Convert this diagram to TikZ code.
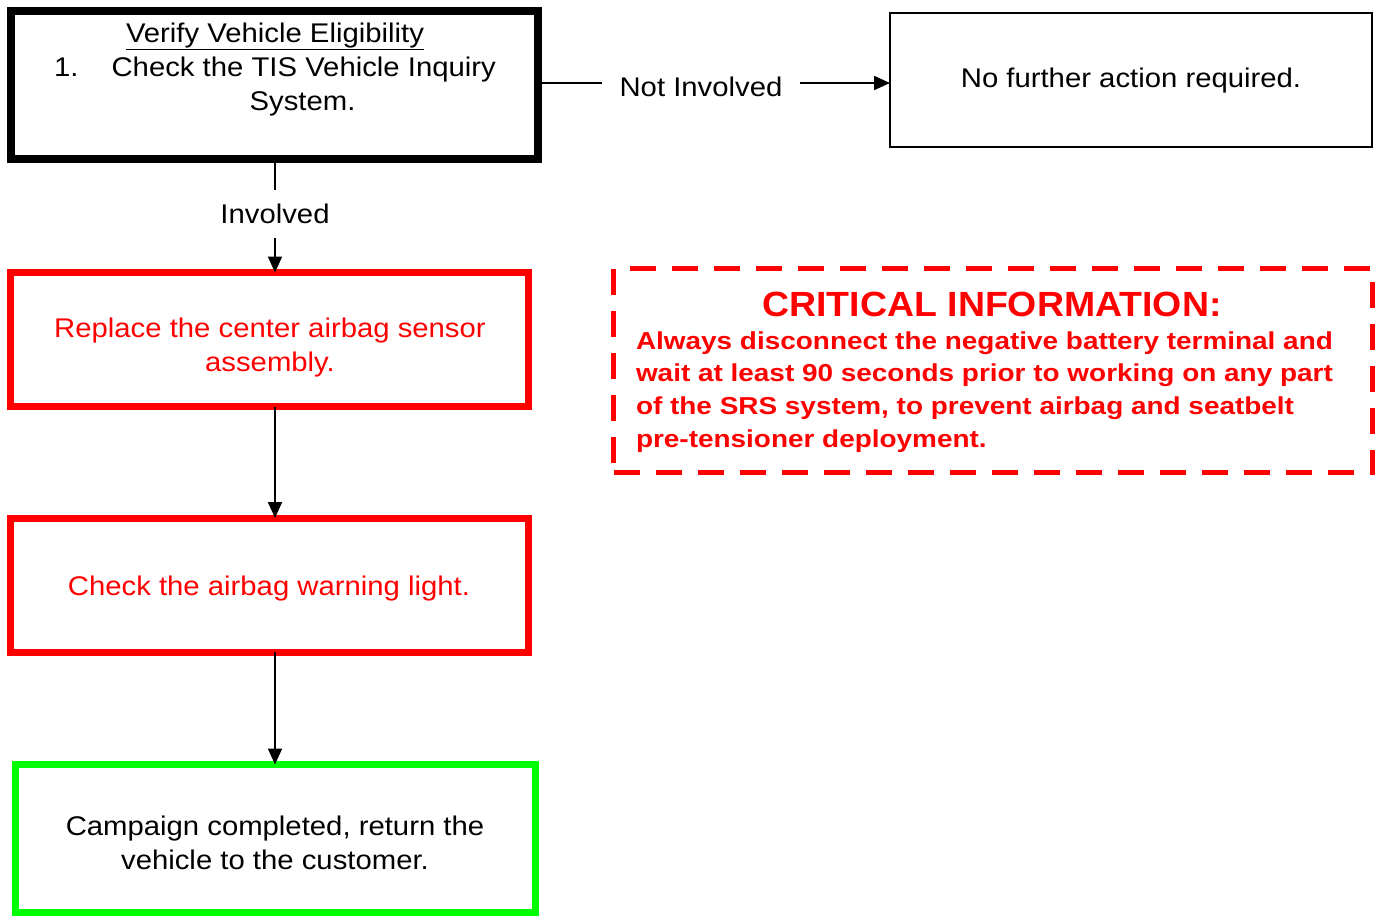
\documentclass[tikz,border=0pt]{standalone}
\usepackage{fontspec}
\setmainfont{Liberation Sans}[FakeStretch=1.085]
\newfontfamily\titlefont{Liberation Sans}[FakeStretch=1.07]
\newfontfamily\bodyfont{Liberation Sans}[FakeStretch=1.14]
\usetikzlibrary{arrows.meta}
\definecolor{pured}{RGB}{255,0,0}
\definecolor{pugreen}{RGB}{0,255,0}
\begin{document}
\begin{tikzpicture}[x=1pt,y=-1pt,
  every node/.style={font=\fontsize{27}{34}\selectfont, inner sep=0pt, outer sep=0pt},
  boxblack/.style={draw=black, line width=8pt, minimum width=527pt, minimum height=148pt},
  boxthin/.style={draw=black, line width=2pt, minimum width=482pt, minimum height=134pt},
  boxred/.style={draw=pured, line width=7pt, minimum width=518pt, minimum height=134pt},
  boxgreen/.style={draw=pugreen, line width=7pt, minimum width=520pt, minimum height=148pt},
  critbox/.style={draw=pured, line width=5pt, dash pattern=on 26pt off 16pt, minimum width=759pt, minimum height=204pt},
  conn/.style={line width=2pt, draw=black},
  arr/.style={conn, -{Triangle[length=16pt,width=14pt]}},
  redtext/.style={text=pured, align=center},
]
\useasboundingbox (0,0) rectangle (1375,916);
% boxes
\node[boxblack] (b1) at (274.5,85) {};
\node[align=center, anchor=north] (b1t) at (275,23)
  {\underline{Verify Vehicle Eligibility}\\
   1.\hspace{33pt}Check the TIS Vehicle Inquiry\\
   \hspace{55pt}System.};
\node[boxthin] (b2) at (1131,80) {};
\node (b2t) at (1131,81) {No further action required.};
\node[boxred] (b3) at (269.5,339.5) {};
\node[redtext] (b3t) at (270,348) {Replace the center airbag sensor\\assembly.};
\node[boxred] (b4) at (269.5,585) {};
\node[redtext] (b4t) at (269,589) {Check the airbag warning light.};
\node[boxgreen] (b5) at (275.5,838.5) {};
\node[align=center] (b5t) at (275,843) {Campaign completed, return the\\vehicle to the customer.};
% critical info
\node[critbox] (crit) at (993,370.5) {};
\node[text=pured, font=\titlefont\fontsize{35}{40}\selectfont\bfseries] (critt) at (992,304) {CRITICAL INFORMATION:};
\node[text=pured, anchor=north west, align=left, font=\bodyfont\fontsize{24.5}{32.7}\selectfont\bfseries] (critb) at (636,331.5)
  {Always disconnect the negative battery terminal and\\
   wait at least 90 seconds prior to working on any part\\
   of the SRS system, to prevent airbag and seatbelt\\
   pre-tensioner deployment.};
% labels
\node[inner ysep=14pt] (inv) at (275,214) {Involved};
\node[inner xsep=18pt] (ninv) at (701,87) {Not Involved};
% connectors
\draw[conn] (b1.south -| inv.north) -- (inv.north);
\draw[arr] (inv.south) -- (inv.south |- b3.north);
\draw[arr] (b3.south -| inv.south) -- (b4.north -| inv.south);
\draw[arr] (b4.south -| inv.south) -- (b5.north -| inv.south);
\draw[conn] ([yshift=4pt]b1.east |- ninv.west) -- ([yshift=4pt]ninv.west);
\draw[arr] ([yshift=4pt]ninv.east) -- ([yshift=4pt]ninv.east -| b2.west);
\end{tikzpicture}
\end{document}
